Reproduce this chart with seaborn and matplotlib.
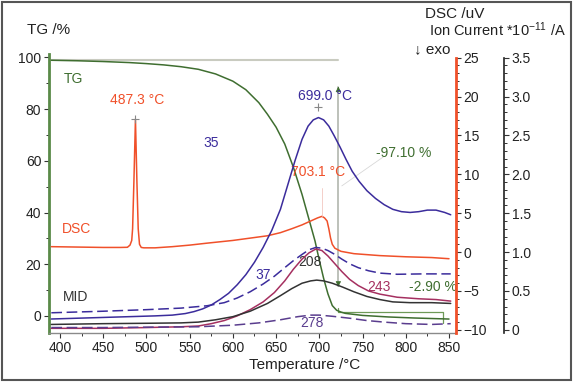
import numpy as np
import pandas as pd
import seaborn as sns
import matplotlib.pyplot as plt
from matplotlib.patches import Rectangle
from matplotlib.ticker import MultipleLocator

# TG curve (%)
tg_temp = [390, 420, 450, 480, 500, 520, 540, 560, 580, 600, 615, 630, 640, 650, 660,
           670, 680, 690, 695, 700, 705, 710, 715, 720, 725, 730, 740, 750, 780, 810, 850]
tg_val = [98.9, 98.7, 98.4, 98.0, 97.6, 97.1, 96.4, 95.4, 93.6, 90.8, 87.5, 82.5, 78.0, 73.0, 66.5,
          57.5, 47.0, 35.0, 29.0, 21.5, 14.5, 8.5, 4.0, 2.2, 1.5, 1.0, 0.6, 0.2, -0.4, -0.8, -1.2]

# DSC curve (uV)
dsc_temp = [390, 420, 450, 470, 478, 481, 483, 484, 485.5, 487.3, 489, 490.5, 492, 494, 497,
            510, 530, 550, 570, 600, 620, 640, 655, 668, 680, 690, 698, 703.1, 706, 709, 711,
            713, 715, 718, 725, 740, 770, 800, 830, 850]
dsc_val = [0.7, 0.65, 0.6, 0.6, 0.62, 0.9, 1.5, 3.0, 9.0, 17.1, 9.0, 3.0, 1.0, 0.6, 0.55,
           0.55, 0.7, 0.9, 1.15, 1.5, 1.8, 2.1, 2.5, 3.0, 3.5, 4.0, 4.4, 4.6, 4.4, 4.0, 3.0,
           1.8, 1.0, 0.5, 0.1, -0.2, -0.45, -0.6, -0.7, -0.85]

# MID ion currents (*10^-11 A)
m35_temp = [390, 420, 450, 480, 510, 530, 545, 555, 565, 575, 585, 595, 605, 615, 625, 635,
            645, 655, 665, 672, 680, 687, 693, 699, 705, 711, 717, 724, 731, 738, 746, 755,
            765, 775, 785, 795, 805, 815, 825, 835, 845, 852]
m35_val = [0.14, 0.15, 0.16, 0.17, 0.18, 0.19, 0.21, 0.235, 0.27, 0.32, 0.39, 0.47, 0.58, 0.71,
           0.87, 1.06, 1.28, 1.55, 1.92, 2.18, 2.45, 2.62, 2.70, 2.73, 2.70, 2.62, 2.50, 2.35,
           2.19, 2.04, 1.91, 1.79, 1.69, 1.61, 1.55, 1.52, 1.51, 1.52, 1.54, 1.54, 1.51, 1.48]

m37_temp = [390, 450, 500, 540, 570, 590, 605, 620, 635, 648, 660, 670, 680, 688, 696, 703,
            710, 718, 726, 735, 745, 757, 770, 790, 820, 852]
m37_val = [0.22, 0.24, 0.26, 0.28, 0.31, 0.35, 0.41, 0.49, 0.59, 0.69, 0.80, 0.89, 0.97, 1.03,
           1.06, 1.05, 1.02, 0.97, 0.91, 0.85, 0.80, 0.76, 0.73, 0.715, 0.72, 0.72]

m243_temp = [390, 450, 500, 540, 560, 575, 590, 605, 620, 635, 648, 660, 670, 680, 688, 696,
             703, 710, 718, 726, 735, 745, 757, 770, 790, 815, 835, 852]
m243_val = [0.02, 0.02, 0.03, 0.04, 0.05, 0.08, 0.12, 0.18, 0.26, 0.36, 0.48, 0.63, 0.78, 0.91,
            0.99, 1.04, 1.02, 0.95, 0.85, 0.75, 0.65, 0.57, 0.50, 0.46, 0.42, 0.40, 0.39, 0.37]

m208_temp = [390, 450, 500, 540, 560, 580, 600, 620, 640, 655, 668, 680, 690, 697, 705, 715,
             727, 740, 755, 770, 785, 805, 830, 852]
m208_val = [0.07, 0.08, 0.085, 0.09, 0.10, 0.13, 0.17, 0.24, 0.34, 0.44, 0.53, 0.60, 0.63, 0.64,
            0.63, 0.60, 0.55, 0.49, 0.43, 0.39, 0.36, 0.35, 0.35, 0.34]

m278_temp = [390, 450, 500, 560, 600, 630, 655, 675, 690, 700, 715, 735, 755, 775, 800, 830, 852]
m278_val = [0.03, 0.03, 0.035, 0.04, 0.06, 0.09, 0.13, 0.17, 0.19, 0.19, 0.175, 0.15, 0.12,
            0.10, 0.08, 0.07, 0.08]

GREEN = '#3f6e30'
ORANGE = '#f0502a'
INDIGO = '#3b2c9c'
MAROON = '#a53060'
PURPLE = '#5a3d8e'
DARK = '#333333'

sns.set_style('ticks')
plt.rcParams['font.family'] = ['Liberation Sans', 'DejaVu Sans']
plt.rcParams['mathtext.fontset'] = 'custom'
plt.rcParams['mathtext.rm'] = 'Liberation Sans'

fig = plt.figure(figsize=(5.73, 3.82), dpi=100)
ax = fig.add_axes([49 / 573, 49 / 382, 407 / 573, 280 / 382])
ax2 = ax.twinx()
ax3 = ax.twinx()

# TG
ax.plot([390, 722], [98.8, 98.8], color='#c9cbc0', lw=1.5, zorder=1)
sns.lineplot(x=tg_temp, y=tg_val, ax=ax, color=GREEN, linewidth=1.1, zorder=3)

# DSC
sns.lineplot(x=dsc_temp, y=dsc_val, ax=ax2, color=ORANGE, linewidth=1.1)

# ion currents
dash = (0, (7, 3))
sns.lineplot(x=m35_temp, y=m35_val, ax=ax3, color=INDIGO, linewidth=1.1)
sns.lineplot(x=m37_temp, y=m37_val, ax=ax3, color=INDIGO, linewidth=1.1, linestyle=dash)
sns.lineplot(x=m243_temp, y=m243_val, ax=ax3, color=MAROON, linewidth=1.1)
sns.lineplot(x=m208_temp, y=m208_val, ax=ax3, color=DARK, linewidth=1.1)
sns.lineplot(x=m278_temp, y=m278_val, ax=ax3, color=PURPLE, linewidth=1.1, linestyle=dash)

# limits
ax.set_xlim(387.3, 858.1)
ax.set_ylim(-6.6, 101.7)
ax2.set_ylim(-10.4, 25.6)
ax3.set_ylim(-0.04, 3.56)

ax.xaxis.set_major_locator(MultipleLocator(50))
ax.xaxis.set_minor_locator(MultipleLocator(25))
ax.yaxis.set_major_locator(MultipleLocator(20))
ax.yaxis.set_minor_locator(MultipleLocator(10))
ax2.yaxis.set_major_locator(MultipleLocator(5))
ax2.yaxis.set_minor_locator(MultipleLocator(1))
ax3.yaxis.set_major_locator(MultipleLocator(0.5))
ax3.yaxis.set_minor_locator(MultipleLocator(0.1))
ax3.yaxis.set_major_formatter(lambda v, p: '0' if abs(v) < 1e-9 else f'{v:.1f}')

for a in (ax, ax2, ax3):
    a.set_xlabel('')
    a.set_ylabel('')
    a.tick_params(which='major', length=3.5, width=0.8, color=DARK, labelsize=10,
                  labelcolor='#222222', pad=2)
    a.tick_params(which='minor', length=2, width=0.7, color=DARK)

for s in ('top', 'right'):
    ax.spines[s].set_visible(False)
ax.spines['left'].set_color('#5a8a48')
ax.spines['left'].set_linewidth(2)
ax.spines['left'].set_bounds(-6.6, 101.5)
ax.spines['bottom'].set_color('#8a8a8a')
ax.spines['bottom'].set_linewidth(1)

for s in ('top', 'left', 'bottom'):
    ax2.spines[s].set_visible(False)
    ax3.spines[s].set_visible(False)
ax2.spines['right'].set_color(ORANGE)
ax2.spines['right'].set_linewidth(2)
ax2.spines['right'].set_bounds(-10.4, 25)
ax3.spines['right'].set_position(('axes', 1.118))
ax3.spines['right'].set_color('#222222')
ax3.spines['right'].set_linewidth(1.2)
ax3.spines['right'].set_bounds(-0.04, 3.5)

# TG step annotations
ax.plot([722, 722], [11.5, 88.5], color='#b8bcb4', lw=1.3, zorder=2)
ax.annotate('', xy=(722, 89.8), xytext=(722, 86.5),
            arrowprops=dict(arrowstyle='-|>', color=GREEN, lw=0.5, mutation_scale=8))
ax.annotate('', xy=(722, 10.2), xytext=(722, 13.5),
            arrowprops=dict(arrowstyle='-|>', color=GREEN, lw=0.5, mutation_scale=8))
ax.plot([722, 722, 843, 843], [3.1, 1.5, 1.5, -2.7], color='#6f9a58', lw=0.9, zorder=2)
ax.plot([726, 774], [50.3, 61.5], color='#d8d8d8', lw=0.6)
ax.text(798, 63.2, '-97.10 %', color=GREEN, fontsize=10, ha='center', va='center')
ax.text(831, 11.2, '-2.90 %', color=GREEN, fontsize=10, ha='center', va='center')

# peak labels
ax2.plot([487.3], [17.1], marker='+', color='#888888', ms=6, mew=0.8)
ax.text(489, 83.6, '487.3 °C', color=ORANGE, fontsize=10, ha='center', va='center')
ax3.plot([699], [2.86], marker='+', color='#888888', ms=6, mew=0.8)
ax.text(706, 85.2, '699.0 °C', color=INDIGO, fontsize=10, ha='center', va='center')
ax2.plot([703.1, 703.1], [4.7, 8.2], color='#f2c8c0', lw=0.6)
ax.text(698, 55.7, '703.1 °C', color=ORANGE, fontsize=10, ha='center', va='center')

# curve labels
ax.text(415, 91.5, 'TG', color=GREEN, fontsize=10, ha='center', va='center')
ax.text(419, 33.7, 'DSC', color=ORANGE, fontsize=10, ha='center', va='center')
ax.text(418, 7.4, 'MID', color=DARK, fontsize=10, ha='center', va='center')
ax.text(574.5, 67.0, '35', color=INDIGO, fontsize=10, ha='center', va='center')
ax.text(634.7, 15.9, '37', color=INDIGO, fontsize=10, ha='center', va='center')
ax.text(689, 20.9, '208', color=DARK, fontsize=10, ha='center', va='center')
ax.text(769, 11.2, '243', color=MAROON, fontsize=10, ha='center', va='center')
ax.text(691, -2.7, '278', color=PURPLE, fontsize=10, ha='center', va='center')

# axis titles
fig.text(49 / 573, 1 - 30 / 382, 'TG /%', fontsize=11, color='#222222', ha='center', va='center')
fig.text(484 / 573, 1 - 14 / 382, 'DSC /uV', fontsize=11, color='#222222', ha='right', va='center')
fig.text(566 / 573, 1 - 30 / 382, r'Ion Current *10$\mathregular{^{-11}}$ /A', fontsize=10.5,
         color='#222222', ha='right', va='center')
fig.text(450 / 573, 1 - 49 / 382, '↓ exo', fontsize=11, color='#222222', ha='right', va='center')
fig.text(305 / 573, 1 - 365 / 382, 'Temperature /°C', fontsize=11, color='#222222',
         ha='center', va='center')

# outer frame
fig.patches.append(Rectangle((0.003, 0.004), 0.994, 0.99, transform=fig.transFigure,
                             fill=False, edgecolor='#555555', linewidth=1.5))

fig.savefig('out.png', dpi=100)
